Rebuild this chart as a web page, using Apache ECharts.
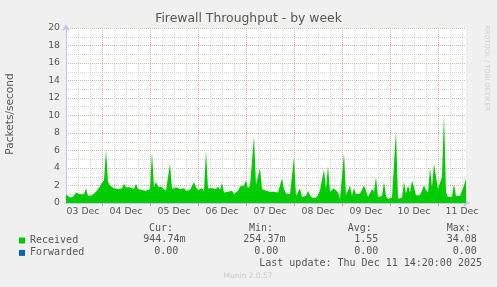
<!DOCTYPE html>
<html>
<head>
<meta charset="utf-8">
<script src="https://cdn.jsdelivr.net/npm/echarts@6/dist/echarts.min.js"></script>
<style>html,body{margin:0;padding:0;background:#f0f0f0;}#c{width:497px;height:287px;}</style>
</head>
<body>
<div id="c"></div>
<script>
// Day labels on the time axis (centred at noon of each day)
const dayLabels = ['03 Dec','04 Dec','05 Dec','06 Dec','07 Dec','08 Dec','09 Dec','10 Dec','11 Dec'];
// Hour of the first sample, counted from 03 Dec 00:00
const firstHour = 6;
// Received packets/second, one value per hour
const received = [
1.0,0.9,0.6,0.5,0.8,1.2,1.3,1.0,0.9,1.0,
1.7,0.8,0.7,0.9,1.1,1.3,1.5,1.9,2.3,2.6,
6.1,2.4,2.0,1.9,1.7,1.7,1.6,1.6,1.7,2.2,
1.8,1.7,1.8,1.9,1.6,2.2,1.6,1.4,1.5,1.6,
1.4,1.5,1.6,5.8,1.8,2.4,1.9,1.7,1.8,1.6,
1.4,1.6,4.5,1.6,1.7,1.8,1.9,1.6,1.5,1.7,
1.4,1.6,1.5,1.7,2.4,1.8,1.5,1.3,1.7,1.4,
6.0,1.7,1.5,1.7,1.9,1.6,1.9,1.5,2.3,1.2,
1.0,1.3,1.1,1.4,1.0,1.2,1.4,1.9,1.7,2.0,
2.6,1.7,2.0,1.8,7.6,2.1,1.9,4.0,1.6,1.5,
1.4,1.6,1.3,1.4,1.3,1.5,1.2,1.3,2.8,1.6,
1.1,1.2,1.0,1.2,5.3,0.8,0.6,1.7,0.7,0.8,
0.8,1.4,0.9,0.6,0.7,0.6,0.9,1.5,1.4,3.8,
1.6,4.3,1.3,1.2,1.7,1.6,1.2,0.5,0.6,5.7,
0.9,0.8,2.0,0.8,1.7,1.0,1.2,1.1,1.0,2.0,
1.4,0.7,0.8,1.6,1.3,3.0,0.7,0.6,0.8,2.4,
0.8,0.5,0.5,0.6,0.5,8.3,0.5,0.4,0.6,2.4,
1.1,2.0,1.2,2.6,2.6,0.9,0.8,0.9,0.8,2.0,
1.5,1.2,4.0,1.8,4.5,3.0,1.6,1.7,3.0,10.2,
1.2,0.7,0.6,0.7,2.2,0.8,0.7,0.8,1.0,2.0,
2.8
];
// Forwarded packets/second: zero at start and end of the period
const forwarded = [[0,0],[200,0]];
// Legend statistics
const statHeaders = ['Cur:','Min:','Avg:','Max:'];
const receivedStats = ['944.74m','254.37m','1.55','34.08'];
const forwardedStats = ['0.00','0.00','0.00','0.00'];
const lastUpdate = 'Last update: Thu Dec 11 14:20:00 2025';

const cats = received.map((v,i)=>String(firstHour+i));
const hourOf = i => firstHour + i;
const isMidnight = i => hourOf(i) % 24 === 0;
const isNoon = i => hourOf(i) % 24 === 12;
const isMinor = i => hourOf(i) % 6 === 0 && !isMidnight(i);

const mono = 'DejaVu Sans Mono';
const sans = 'DejaVu Sans';
const txtCol = '#555';
const axisCol = '#c4c4f0';

function t(text, x, y, align, extra){
  return Object.assign({type:'text', x:x, y:y, style:{text:text, fill:txtCol, font:'10px "'+mono+'"', align:align||'left', verticalAlign:'middle'}}, extra||{});
}
const colsLeft = [[149,143.3,154.3],[249,243.3,254.3],[347.7,354.3,354.3],[446.7,446.7,452.7]];
const graphics = [];
statHeaders.forEach((h,k)=>{
  graphics.push(t(h, colsLeft[k][0], 228));
  graphics.push(t(receivedStats[k], colsLeft[k][1], 239.5));
  graphics.push(t(forwardedStats[k], colsLeft[k][2], 251.8));
});
graphics.push(t(lastUpdate, 482, 263.5, 'right'));
graphics.push({type:'text', x:248, y:276.5, style:{text:'Munin 2.0.57', fill:'#c8c8c8', font:'7.5px "'+sans+'"', align:'center', verticalAlign:'middle'}});
graphics.push({type:'text', x:487, y:25, rotation:-Math.PI/2, style:{text:'RRDTOOL / TOBI OETIKER', fill:'#cfcfcf', font:'6.7px "'+sans+'"', align:'left', verticalAlign:'middle'}});
graphics.push({type:'text', x:10, y:114, rotation:Math.PI/2, style:{text:'Packets/second', fill:txtCol, font:'10.6px "'+sans+'"', align:'center', verticalAlign:'middle'}});

const chart = echarts.init(document.getElementById('c'), null, {renderer:'canvas'});
chart.setOption({
  backgroundColor:'#f0f0f0',
  animation:false,
  title:{text:'Firewall Throughput - by week', left:'center', top:13, padding:0,
    textStyle:{fontFamily:sans, fontSize:12.4, fontWeight:'normal', color:txtCol}},
  grid:{left:66, right:31, top:28, bottom:84, show:true, backgroundColor:'#ffffff', borderWidth:0, containLabel:false},
  legend:{orient:'vertical', left:14, top:229.5, icon:'rect', itemWidth:6, itemHeight:6, itemGap:0.4,
    textStyle:{fontFamily:mono, fontSize:10, color:txtCol, lineHeight:12, padding:[0,0,0,0]},
    data:['Received','Forwarded'], selectedMode:false},
  xAxis:[
    {type:'category', data:cats, boundaryGap:false, position:'bottom',
      axisLine:{show:true, lineStyle:{color:axisCol, width:1}, symbol:['none','arrow'], symbolSize:[6,7], symbolOffset:[0,4]},
      axisTick:{show:false}, axisLabel:{show:false},
      splitLine:{show:true, interval:(i)=>isMinor(i), lineStyle:{color:'#d8d8d8', type:'dotted', width:1}}},
    {type:'category', data:cats, boundaryGap:false, position:'bottom',
      axisLine:{show:false},
      axisTick:{show:true, interval:(i)=>isMidnight(i), length:3, lineStyle:{color:'#e89090'}},
      axisLabel:{show:true, interval:(i)=>isNoon(i), margin:4, color:txtCol, fontFamily:sans, fontSize:9.3,
        formatter:(v)=>{const d=dayLabels[Math.floor(Number(v)/24)]; return Number(v)<24 ? '{f|'+d+'}' : d;},
        rich:{f:{fontFamily:sans, fontSize:9.3, color:txtCol, padding:[0,0,0,10]}}},
      splitLine:{show:true, interval:(i)=>isMidnight(i), lineStyle:{color:'#ebb4b4', type:'dotted', width:1}}}
  ],
  yAxis:[
    {type:'value', min:0, max:20, interval:1, position:'left',
      axisLine:{show:true, lineStyle:{color:axisCol, width:1}, symbol:['none','arrow'], symbolSize:[6,7], symbolOffset:[0,4]},
      axisTick:{show:false}, axisLabel:{show:false},
      splitLine:{show:true, lineStyle:{color:'#d8d8d8', type:'dotted', width:1}}},
    {type:'value', min:0, max:20, interval:2, position:'left',
      axisLine:{show:false}, axisTick:{show:false},
      axisLabel:{show:true, margin:6, color:txtCol, fontFamily:sans, fontSize:9.3},
      splitLine:{show:true, lineStyle:{color:'#ebb4b4', type:'dotted', width:1}}}
  ],
  series:[
    {name:'Received', type:'line', xAxisIndex:0, yAxisIndex:0, data:received, showSymbol:false, symbol:'none',
      color:'#00cc00', lineStyle:{width:0}, areaStyle:{color:'#00cc00', opacity:1}, z:3},
    {name:'Forwarded', type:'line', xAxisIndex:0, yAxisIndex:0, data:forwarded, showSymbol:false, symbol:'none',
      color:'#0066b3', lineStyle:{width:0, opacity:0}, z:4}
  ],
  graphic:graphics
});
</script>
</body>
</html>
